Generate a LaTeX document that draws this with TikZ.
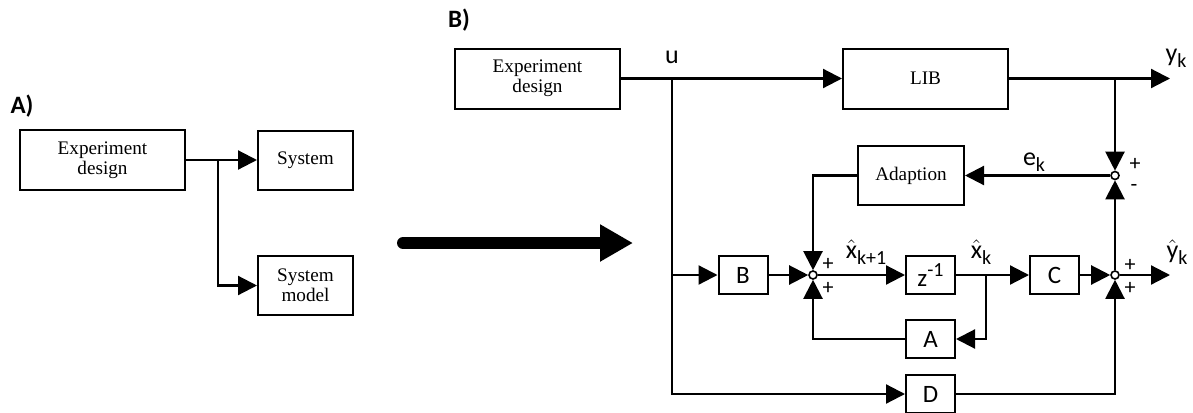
\documentclass[tikz,border=0pt]{standalone}
\usepackage{amsmath}
\usepackage{fontspec}
\setmainfont{Liberation Serif}
\newfontfamily\calib{Carlito}
\usetikzlibrary{arrows.meta,calc}
% small helpers for the sans signal labels
\newcommand{\sbk}[1]{\raisebox{-3pt}{\fontsize{10}{10}\selectfont #1}}
\newcommand{\spk}[1]{\raisebox{5pt}{\fontsize{10}{10}\selectfont #1}}
\newcommand{\hx}[1]{\ensuremath{\hat{\text{#1}}}}

\begin{document}
\begin{tikzpicture}[
  x=0.5pt,y=-0.5pt,
  >={Triangle[length=9.5pt,width=9.5pt]},
  bigbox/.style={draw,line width=1pt,align=center,inner sep=0pt,
                 font=\fontsize{9.6}{10}\selectfont,
                 minimum width=82.5pt,minimum height=30pt},
  midbox/.style={draw,line width=1pt,align=center,inner sep=0pt,
                 font=\fontsize{9.6}{10}\selectfont,
                 minimum width=47.5pt,minimum height=29.5pt},
  smbox/.style ={draw,line width=1pt,inner sep=0pt,
                 font=\calib\fontsize{12.5}{13}\selectfont,
                 minimum width=24.5pt,minimum height=19pt},
  sumpt/.style ={circle,draw,line width=0.8pt,fill=white,
                 inner sep=0pt,minimum size=4pt},
  flow/.style  ={->,line width=1.1pt},
  sig/.style   ={font=\calib\fontsize{13}{13}\selectfont,inner sep=0pt},
  sgn/.style   ={font=\calib\fontsize{11}{11}\selectfont,inner sep=0pt},
  plab/.style  ={font=\calib\bfseries\fontsize{12.5}{13}\selectfont,inner sep=0pt},
]
\useasboundingbox (0,0) rectangle (1193,412);

% ===================== A) open experiment ================================
\node[plab] (labA) at (22,106) {A)};
\node[bigbox] (EDa) at (102.5,160) {Experiment\\design};
\node[midbox] (SYS) at (305.5,160) {System};
\node[midbox] (SM)  at (305.5,285.5) {System\\model};

\coordinate (Aj) at (218,160);
\draw[flow] (EDa) -- (SYS);
\draw[flow] (Aj) |- (SM.west);

% ----- big arrow between the two panels ------------------------------------
\coordinate (bigS) at (403,243);
\coordinate (bigE) at (633,243);
\draw[line width=6pt,line cap=round,
      -{Triangle[length=16.5pt,width=17.5pt]}] (bigS) -- (bigE);

% ===================== B) adaptive observer loop =========================
\node[plab] (labB) at (459,20) {B)};
\node[bigbox] (EDb) at (537.5,78.5) {Experiment\\design};
\node[bigbox] (LIB) at (925.5,78.5) {LIB};
\node[bigbox,minimum width=53pt,minimum height=29.5pt] (ADP) at (911,175.5) {Adaption};

\node[smbox] (B) at (743,275)    {B};
\node[smbox] (Z) at (930.5,275)  {z\spk{-1}};
\node[smbox] (C) at (1054.5,275) {C};
\node[smbox] (A) at (930.5,339)  {A};
\node[smbox] (D) at (930.5,394)  {D};

\node[sumpt] (S1) at (1115,175.5) {};
\node[sumpt] (S2) at (813,275)    {};
\node[sumpt] (S3) at (1115,275)   {};

% branch points and free ends
\coordinate (Uj)   at (672,78.5);
\coordinate (Yj)   at (1115,78.5);
\coordinate (Yout) at (1170,78.5);
\coordinate (Xj)   at (986,275);
\coordinate (Hout) at (1170,275);

% upper path: input -> plant -> output
\draw[flow] (EDb) -- (LIB);
\draw[flow] (LIB) -- (Yout);
\node[sig] (lu) at (672,57) {u};
\node[sig] (ly) at (1176,58) {y\sbk{k}};

% error and adaption
\draw[flow] (Yj) -- (S1);
\draw[flow] (S1) -- (ADP);
\node[sig] (le) at (1034,162) {e\sbk{k}};
\draw[flow] (ADP.west) -| (S2);

% state update row
\draw[flow] (Uj) |- (B);
\draw[flow] (Uj) |- (D);
\draw[flow] (B) -- (S2);
\draw[flow] (S2) -- (Z);
\draw[flow] (Z) -- (C);
\draw[flow] (Xj) |- (A);
\draw[flow] (A) -| (S2);
\draw[flow] (C) -- (S3);
\draw[flow] (S3) -- (Hout);
\draw[flow] (D) -| (S3);
\draw[flow] (S3) -- (S1);

\node[sig] (lx1) at (866,252) {\hx{x}\sbk{k+1}};
\node[sig] (lx)  at (981,252) {\hx{x}\sbk{k}};
\node[sig] (lyh) at (1177,252) {\hx{y}\sbk{k}};

% signs at the summing points
\node[sgn] at (1135,164) {+};
\node[sgn] at (1134,188) {-};
\node[sgn] at (828,264)  {+};
\node[sgn] at (828,288)  {+};
\node[sgn] at (1130,265) {+};
\node[sgn] at (1130,288) {+};

\end{tikzpicture}
\end{document}
